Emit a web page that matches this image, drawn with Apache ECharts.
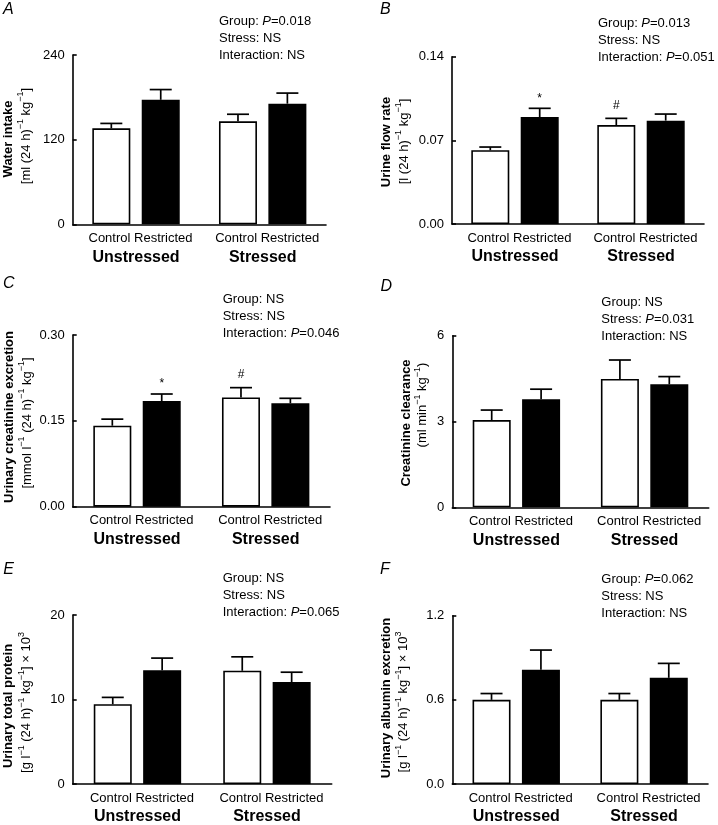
<!DOCTYPE html>
<html><head><meta charset="utf-8">
<script src="https://cdn.jsdelivr.net/npm/echarts@6/dist/echarts.min.js"></script>
<style>html,body{margin:0;padding:0;background:#fff}#c{width:718px;height:825px}</style>
</head><body><div id="c"></div>
<script>
// ---------- DATA ----------
const groups = ['Unstressed', 'Stressed'];
const panelLetters = ['A', 'B', 'C', 'D', 'E', 'F'];

// A: Water intake
const waterControl = [136, 146];
const waterControlSem = [7, 10];
const waterRestricted = [176.5, 171];
const waterRestrictedSem = [14.5, 15];
const waterTicks = [0, 120, 240];
const waterStats = ['Group: P=0.018', 'Stress: NS', 'Interaction: NS'];

// B: Urine flow rate
const flowControl = [0.0617, 0.0828];
const flowControlSem = [0.0027, 0.0056];
const flowRestricted = [0.0895, 0.0865];
const flowRestrictedSem = [0.0073, 0.0055];
const flowTicks = [0, 0.07, 0.14];
const flowStats = ['Group: P=0.013', 'Stress: NS', 'Interaction: P=0.051'];
const flowMarkControl = ['', '#'];
const flowMarkRestricted = ['*', ''];

// C: Urinary creatinine excretion
const creatControl = [0.1415, 0.191];
const creatControlSem = [0.0115, 0.017];
const creatRestricted = [0.1847, 0.1807];
const creatRestrictedSem = [0.0122, 0.0087];
const creatTicks = [0, 0.15, 0.30];
const creatStats = ['Group: NS', 'Stress: NS', 'Interaction: P=0.046'];
const creatMarkControl = ['', '#'];
const creatMarkRestricted = ['*', ''];

// D: Creatinine clearance
const clearControl = [3.05, 4.49];
const clearControlSem = [0.35, 0.66];
const clearRestricted = [3.78, 4.30];
const clearRestrictedSem = [0.35, 0.27];
const clearTicks = [0, 3, 6];
const clearStats = ['Group: NS', 'Stress: P=0.031', 'Interaction: NS'];

// E: Urinary total protein
const protControl = [9.44, 13.4];
const protControlSem = [0.81, 1.65];
const protRestricted = [13.46, 12.07];
const protRestrictedSem = [1.44, 1.16];
const protTicks = [0, 10, 20];
const protStats = ['Group: NS', 'Stress: NS', 'Interaction: P=0.065'];

// F: Urinary albumin excretion
const albControl = [0.60, 0.60];
const albControlSem = [0.045, 0.045];
const albRestricted = [0.815, 0.757];
const albRestrictedSem = [0.14, 0.103];
const albTicks = [0.0, 0.6, 1.2];
const albStats = ['Group: P=0.062', 'Stress: NS', 'Interaction: NS'];

const titles = ['Water intake', 'Urine flow rate', 'Urinary creatinine excretion',
  'Creatinine clearance', 'Urinary total protein', 'Urinary albumin excretion'];
const units = ['[ml (24 h)^{−1} kg^{−1}]', '[l (24 h)^{−1} kg^{−1}]',
  '[mmol l^{−1} (24 h)^{−1} kg^{−1}]', '(ml min^{−1} kg^{−1})',
  '[g l^{−1} (24 h)^{−1} kg^{−1}] × 10^{3}', '[g l^{−1} (24 h)^{−1} kg^{−1}] × 10^{3}'];

// ---------- LAYOUT / STYLE ----------
const FONT = 'Liberation Sans, Arial, Helvetica, sans-serif';
const panels = [
  {c: waterControl, cs: waterControlSem, r: waterRestricted, rs: waterRestrictedSem, t: waterTicks, d: 0, st: waterStats, mc: ['', ''], mr: ['', ''],
   grid: {left: 72.7, top: 55, width: 253.3, height: 169.3}, letter: [3, 10], stat: [219, 12.5],
   t1: [8.8, 139], t2: [24.5, 136]},
  {c: flowControl, cs: flowControlSem, r: flowRestricted, rs: flowRestrictedSem, t: flowTicks, d: 2, st: flowStats, mc: flowMarkControl, mr: flowMarkRestricted,
   grid: {left: 452, top: 56.7, width: 252, height: 167.3}, letter: [380, 10], stat: [598, 14.8],
   t1: [386.5, 142], t2: [402.5, 141.5]},
  {c: creatControl, cs: creatControlSem, r: creatRestricted, rs: creatRestrictedSem, t: creatTicks, d: 2, st: creatStats, mc: creatMarkControl, mr: creatMarkRestricted,
   grid: {left: 72.7, top: 335, width: 257.3, height: 171.7}, letter: [3, 283.3], stat: [222.7, 290.8],
   t1: [9, 417], t2: [25.5, 423]},
  {c: clearControl, cs: clearControlSem, r: clearRestricted, rs: clearRestrictedSem, t: clearTicks, d: 0, st: clearStats, mc: ['', ''], mr: ['', ''],
   grid: {left: 452.3, top: 335.7, width: 256.4, height: 171.6}, letter: [380.5, 286.7], stat: [601.3, 294.2],
   t1: [406.7, 423], t2: [421, 405]},
  {c: protControl, cs: protControlSem, r: protRestricted, rs: protRestrictedSem, t: protTicks, d: 0, st: protStats, mc: ['', ''], mr: ['', ''],
   grid: {left: 72.7, top: 615, width: 259, height: 172.3}, letter: [3.3, 570], stat: [222.7, 569.8],
   t1: [8.5, 706], t2: [25, 702.5]},
  {c: albControl, cs: albControlSem, r: albRestricted, rs: albRestrictedSem, t: albTicks, d: 1, st: albStats, mc: ['', ''], mr: ['', ''],
   grid: {left: 452.3, top: 615.7, width: 255.7, height: 171.6}, letter: [380, 570], stat: [601.3, 570.8],
   t1: [386.5, 698], t2: [402, 702]}
];

const BAR_W = 38, BAR_GAP = 0.30;
const OFFSET = (BAR_W + BAR_W * BAR_GAP) / 2;

function statText(lines) {
  return lines.map(function (s) {
    const k = s.indexOf('P=');
    if (k < 0) return '{n|' + s + '}';
    return '{n|' + s.slice(0, k) + '}{i|P}{n|' + s.slice(k + 1) + '}';
  }).join('\n');
}
function unitText(u) {
  const parts = u.split(/\^\{([^}]*)\}/);
  return parts.map(function (p, i) {
    if (!p) return '';
    return (i % 2 ? '{s|' : '{n|') + p + '}';
  }).join('');
}

function errSeries(idx, means, sems, marks, offset) {
  return {
    type: 'custom', xAxisIndex: idx, yAxisIndex: idx, z: 5,
    data: means.map(function (m, i) { return [i, m, sems[i]]; }),
    encode: {x: 0, y: 1},
    renderItem: function (params, api) {
      const i = api.value(0), m = api.value(1), e = api.value(2);
      const p0 = api.coord([i, m]);
      const p1 = api.coord([i, m + e]);
      const x = p0[0] + offset;
      const ls = {stroke: '#000', lineWidth: 1.7};
      const ch = [
        {type: 'line', shape: {x1: x, y1: p0[1], x2: x, y2: p1[1]}, style: ls},
        {type: 'line', shape: {x1: x - 11, y1: p1[1], x2: x + 11, y2: p1[1]}, style: ls}
      ];
      const mk = marks[params.dataIndex];
      if (mk) {
        ch.push({type: 'text', x: x, y: p1[1] - (mk === '*' ? 10 : 13),
          style: {text: mk, fontSize: 12, fontFamily: FONT, fill: '#000', align: 'center', verticalAlign: 'middle'}});
      }
      return {type: 'group', children: ch};
    }
  };
}

const grid = [], xAxis = [], yAxis = [], series = [], graphic = [];
panels.forEach(function (p, k) {
  grid.push(Object.assign({containLabel: false}, p.grid));
  xAxis.push({
    type: 'category', gridIndex: k, data: groups, boundaryGap: true,
    axisLine: {lineStyle: {color: '#000', width: 1.6}},
    axisTick: {show: false},
    axisLabel: {
      interval: 0, margin: 6, color: '#000',
      formatter: function (v) { return '{a|Control Restricted}\n{b|' + v + '}'; },
      rich: {
        a: {fontSize: 13, fontFamily: FONT, color: '#000', lineHeight: 16, padding: [0, 0, 0, 9]},
        b: {fontSize: 16, fontFamily: FONT, fontWeight: 'bold', color: '#000', lineHeight: 22}
      }
    }
  });
  yAxis.push({
    type: 'value', gridIndex: k, min: p.t[0], max: p.t[p.t.length - 1], interval: p.t[1] - p.t[0],
    axisLine: {show: true, lineStyle: {color: '#000', width: 1.6}},
    axisTick: {show: true, inside: true, length: 4, lineStyle: {color: '#000', width: 1.6}},
    splitLine: {show: false},
    axisLabel: {margin: 8, fontSize: 13, fontFamily: FONT, color: '#000',
      formatter: function (v) { return Number(v).toFixed(p.d); }}
  });
  series.push({
    type: 'bar', name: 'Control', xAxisIndex: k, yAxisIndex: k, data: p.c,
    barWidth: BAR_W, barGap: (BAR_GAP * 100) + '%',
    itemStyle: {color: '#fff', borderColor: '#000', borderWidth: 1.6}, silent: true
  });
  series.push({
    type: 'bar', name: 'Restricted', xAxisIndex: k, yAxisIndex: k, data: p.r,
    barWidth: BAR_W, barGap: (BAR_GAP * 100) + '%',
    itemStyle: {color: '#000', borderColor: '#000', borderWidth: 1.6}, silent: true
  });
  series.push(errSeries(k, p.c, p.cs, p.mc, -OFFSET));
  series.push(errSeries(k, p.r, p.rs, p.mr, OFFSET));

  graphic.push({type: 'text', x: p.letter[0], y: p.letter[1],
    style: {text: panelLetters[k], fontSize: 16, fontStyle: 'italic', fontFamily: FONT, fill: '#000', align: 'left', verticalAlign: 'middle'}});
  graphic.push({type: 'text', x: p.stat[0], y: p.stat[1],
    style: {text: statText(p.st), align: 'left', verticalAlign: 'top',
      rich: {n: {fontSize: 13, fontFamily: FONT, fill: '#000', lineHeight: 17},
             i: {fontSize: 13, fontFamily: FONT, fontStyle: 'italic', fill: '#000', lineHeight: 17}}}});
  graphic.push({type: 'text', x: p.t1[0], y: p.t1[1], rotation: Math.PI / 2,
    style: {text: titles[k], fontSize: 13, fontWeight: 'bold', fontFamily: FONT, fill: '#000', align: 'center', verticalAlign: 'middle'}});
  graphic.push({type: 'text', x: p.t2[0], y: p.t2[1], rotation: Math.PI / 2,
    style: {text: unitText(units[k]), align: 'center', verticalAlign: 'middle',
      rich: {n: {fontSize: 13, fontFamily: FONT, fill: '#000', lineHeight: 16, verticalAlign: 'bottom'},
             s: {fontSize: 9, fontFamily: FONT, fill: '#000', lineHeight: 16, verticalAlign: 'top'}}}});
});

const chart = echarts.init(document.getElementById('c'), null, {renderer: 'canvas'});
chart.setOption({
  animation: false, backgroundColor: '#fff',
  grid: grid, xAxis: xAxis, yAxis: yAxis, series: series, graphic: graphic
});
</script></body></html>
